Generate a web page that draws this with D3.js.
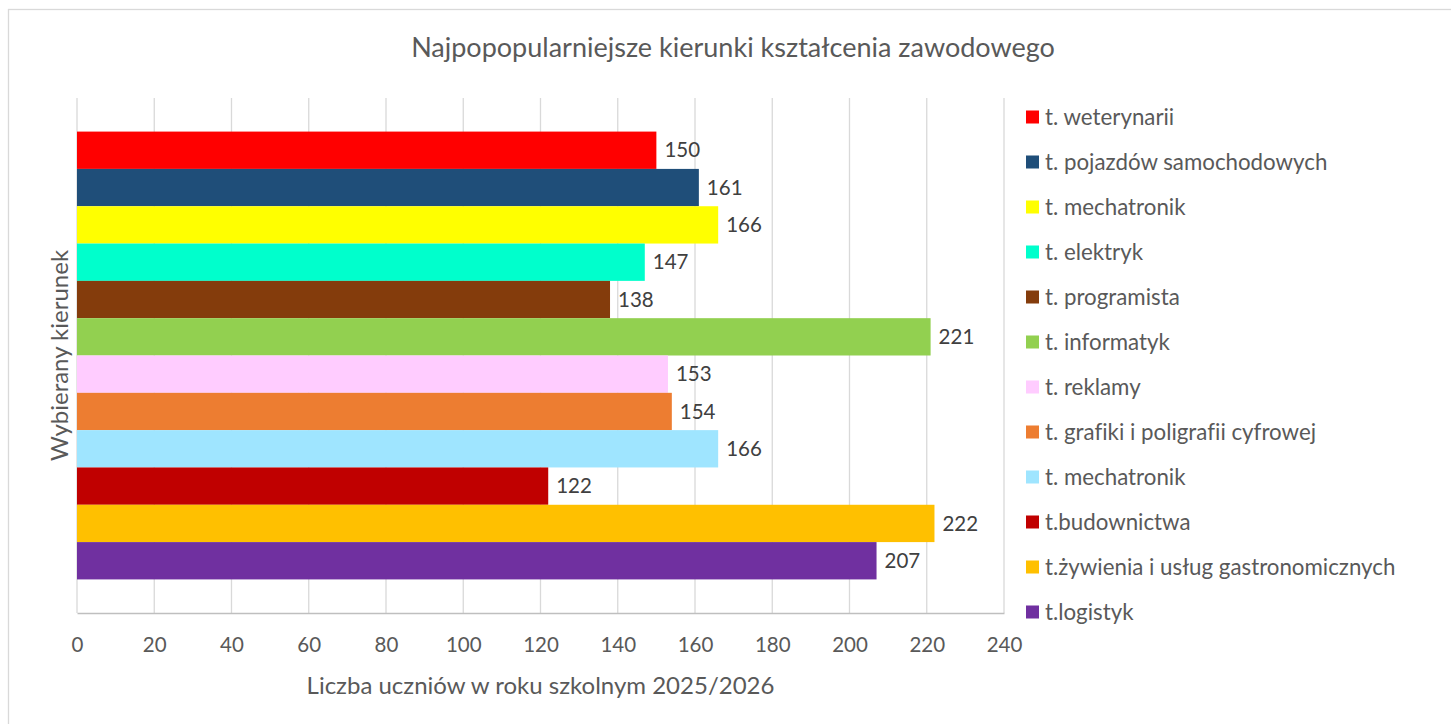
<!DOCTYPE html>
<html>
<head>
<meta charset="utf-8">
<script src="https://cdn.jsdelivr.net/npm/d3@7"></script>
<style>
  body { margin: 0; background: #fff; }
  svg { display: block; font-family: Lato, "Open Sans", sans-serif; font-variant-ligatures: none; }
</style>
</head>
<body>
<div id="chart"></div>
<script>
// series (one bar each), top to bottom
var names = ["t. weterynarii", "t. pojazdów samochodowych", "t. mechatronik", "t. elektryk",
    "t. programista", "t. informatyk", "t. reklamy", "t. grafiki i poligrafii cyfrowej",
    "t. mechatronik", "t.budownictwa", "t.żywienia i usług gastronomicznych", "t.logistyk"];
var values = [150, 161, 166, 147, 138, 221, 153, 154, 166, 122, 222, 207];
var colors = ["#FF0000", "#1F4E79", "#FFFF00", "#00FFCC", "#843C0C", "#92D050",
    "#FFCCFF", "#ED7D31", "#9FE5FF", "#C00000", "#FFC000", "#7030A0"];
var xTicks = [0, 20, 40, 60, 80, 100, 120, 140, 160, 180, 200, 220, 240];

var title = "Najpopopularniejsze kierunki kształcenia zawodowego";
var xTitle = "Liczba uczniów w roku szkolnym 2025/2026";
var yTitle = "Wybierany kierunek";

var width = 1451, height = 724;
var plotLeft = 77, plotRight = 1004, plotTop = 98, plotBottom = 613;

var svg = d3.select("#chart").append("svg")
    .attr("width", width).attr("height", height);

// chart frame
svg.append("rect")
    .attr("x", 8.5).attr("y", 9.5)
    .attr("width", width).attr("height", height)
    .attr("fill", "#fff").attr("stroke", "#d9d9d9").attr("stroke-width", 1.3);

var x = d3.scaleLinear().domain([0, 240]).range([plotLeft, plotRight]);
var y = d3.scaleBand().domain(d3.range(names.length)).range([plotTop, plotBottom])
    .paddingInner(0).paddingOuter(0.9);

// gridlines
svg.append("g").selectAll("line")
    .data(xTicks)
    .enter().append("line")
    .attr("x1", function(d) { return x(d); })
    .attr("x2", function(d) { return x(d); })
    .attr("y1", plotTop).attr("y2", plotBottom)
    .attr("stroke", "#d9d9d9").attr("stroke-width", 1.3);

// x axis
var xAxis = svg.append("g")
    .attr("transform", "translate(0," + plotBottom + ")")
    .call(d3.axisBottom(x).tickValues(xTicks).tickSize(0).tickPadding(24));
xAxis.select(".domain").attr("stroke", "#bfbfbf").attr("stroke-width", 1.3);
xAxis.selectAll("text")
    .attr("fill", "#595959").style("font-size", "20.5px").style("font-family", "Lato, sans-serif");

// bars
svg.append("g").selectAll("rect")
    .data(values)
    .enter().append("rect")
    .attr("x", x(0))
    .attr("y", function(d, i) { return y(i); })
    .attr("width", function(d) { return x(d) - x(0); })
    .attr("height", y.bandwidth())
    .attr("fill", function(d, i) { return colors[i]; });

// data labels
svg.append("g").selectAll("text")
    .data(values)
    .enter().append("text")
    .attr("x", function(d) { return x(d) + 8; })
    .attr("y", function(d, i) { return y(i) + y.bandwidth() / 2; })
    .attr("dy", "0.35em")
    .attr("fill", "#404040")
    .style("font-size", "20.5px")
    .text(function(d) { return d; });

// titles
svg.append("text")
    .attr("x", 733).attr("y", 48).attr("dy", "0.35em")
    .attr("text-anchor", "middle")
    .attr("fill", "#595959").style("font-size", "27px")
    .text(title);

svg.append("text")
    .attr("x", (plotLeft + plotRight) / 2).attr("y", 686).attr("dy", "0.35em")
    .attr("text-anchor", "middle")
    .attr("fill", "#595959").style("font-size", "24px")
    .text(xTitle);

svg.append("text")
    .attr("transform", "translate(60," + (plotTop + plotBottom) / 2 + ") rotate(-90)")
    .attr("dy", "0.35em")
    .attr("text-anchor", "middle")
    .attr("fill", "#595959").style("font-size", "24px")
    .text(yTitle);

// legend
var legend = svg.append("g").selectAll("g")
    .data(names)
    .enter().append("g")
    .attr("transform", function(d, i) { return "translate(1026," + (117 + i * 45) + ")"; });

legend.append("rect")
    .attr("x", 0).attr("y", -6.5)
    .attr("width", 13).attr("height", 13)
    .attr("fill", function(d, i) { return colors[i]; });

legend.append("text")
    .attr("x", 19).attr("dy", "0.35em")
    .attr("fill", "#595959")
    .style("font-size", "22.3px")
    .text(function(d) { return d; });
</script>
</body>
</html>
